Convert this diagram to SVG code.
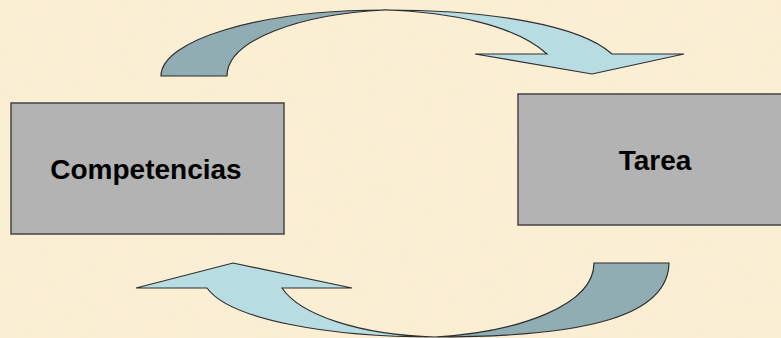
<svg xmlns="http://www.w3.org/2000/svg" width="781" height="338" viewBox="0 0 781 338">
<defs>
<filter id="tex" x="0" y="0" width="100%" height="100%">
<feTurbulence type="fractalNoise" baseFrequency="0.05" numOctaves="3" seed="4"/>
<feColorMatrix type="matrix" values="0 0 0 0 0.97  0 0 0 0 0.86  0 0 0 0 0.68  0 0 0 1.2 -0.4"/>
</filter>
</defs>
<style>
.box{fill:#b3b3b3;stroke:#454545;stroke-width:1.5}
.lbl{font-family:"Liberation Sans",Arial,sans-serif;font-weight:bold;font-size:28px;fill:#000;text-anchor:middle}
.light{fill:#b7dde3;stroke:#2f2f2f;stroke-width:1.2;stroke-linejoin:miter}
.dark{fill:#90adb3;stroke:#2f2f2f;stroke-width:1.2}
</style>
<rect width="781" height="338" fill="#faeed3"/>
<rect width="781" height="338" filter="url(#tex)" opacity="0.5"/>
<g id="connectors">
<g id="arrow-top">
<path class="dark" d="M161,76 C161,40 260,10 385,10 C300,14 227,40 227,76 Z"/>
<path class="light" d="M385,10 C490,10 580,25 612,54 L684,54 L592,74 L475,54 L547,54 C515,25 450,12 385,10 Z"/>
</g>
<g id="arrow-bottom">
<path class="dark" d="M594,263 L669,263 C668,315 590,337 435,337 C520,332 594,305 594,263 Z"/>
<path class="light" d="M435,337 C330,337 230,320 207,288 L136,288 L233,263 L352,288 L282,288 C300,315 360,335 435,337 Z"/>
</g>
</g>
<g id="competencias">
<rect class="box" x="11" y="103" width="273" height="131"/>
<text class="lbl" x="146" y="179">Competencias</text>
</g>
<g id="tarea">
<rect class="box" x="518" y="94" width="275" height="131"/>
<text class="lbl" x="655" y="170">Tarea</text>
</g>
</svg>
